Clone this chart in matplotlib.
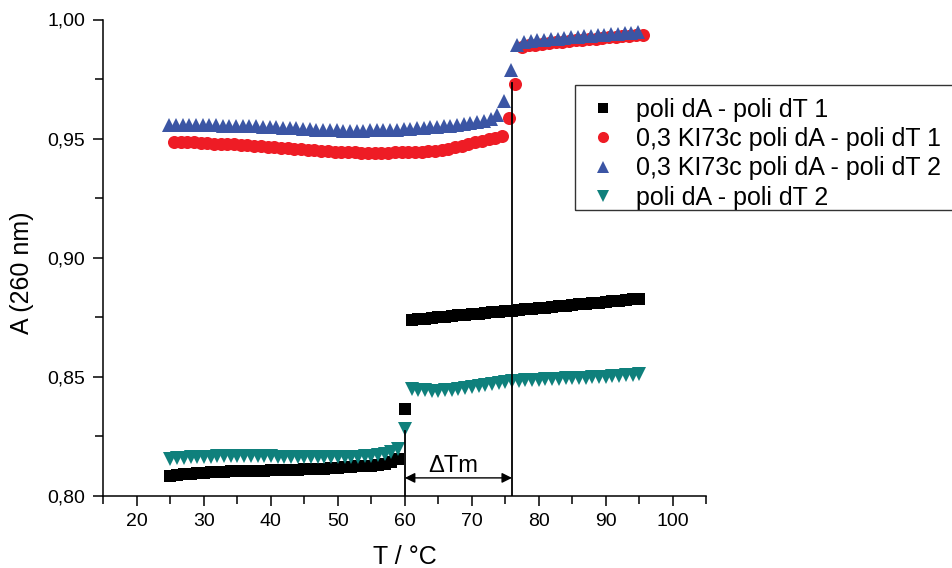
import numpy as np
import matplotlib
matplotlib.use("Agg")
import matplotlib.pyplot as plt
from matplotlib.patches import Rectangle
from matplotlib.ticker import MultipleLocator, FuncFormatter

plt.rcParams['font.family'] = ['Liberation Sans', 'DejaVu Sans']

# ---------------- data ----------------
labels = ["poli dA - poli dT 1", "0,3 KI73c poli dA - poli dT 1",
          "0,3 KI73c poli dA - poli dT 2", "poli dA - poli dT 2"]

# temperature grids (1 °C steps as sampled by the instrument)
t_black = np.arange(71) + 25.0
t_red = np.arange(71) + 25.5
t_blue = np.arange(71) + 24.8
t_teal = np.arange(71) + 25.0

a_black = [0.8084, 0.8088, 0.8091, 0.8094, 0.8096, 0.8098, 0.8100, 0.8101, 0.8102, 0.8103,
           0.8104, 0.8105, 0.8106, 0.8107, 0.8107, 0.8108, 0.8109, 0.8110, 0.8110, 0.8111,
           0.8112, 0.8113, 0.8114, 0.8115, 0.8117, 0.8118, 0.8120, 0.8122, 0.8124, 0.8126,
           0.8128, 0.8131, 0.8136, 0.8143, 0.8155, 0.8366,
           0.8740, 0.8742, 0.8745, 0.8747, 0.8750, 0.8752, 0.8755, 0.8758, 0.8760, 0.8763,
           0.8765, 0.8768, 0.8771, 0.8773, 0.8776, 0.8778, 0.8781, 0.8784, 0.8786, 0.8789,
           0.8791, 0.8794, 0.8797, 0.8799, 0.8802, 0.8804, 0.8807, 0.8810, 0.8812, 0.8815,
           0.8817, 0.8820, 0.8823, 0.8825, 0.8828]

a_red = [0.9487, 0.9486, 0.9485, 0.9484, 0.9482, 0.9480, 0.9479, 0.9478, 0.9477, 0.9476,
         0.9474, 0.9473, 0.9471, 0.9469, 0.9466, 0.9463, 0.9461, 0.9459, 0.9457, 0.9455,
         0.9453, 0.9451, 0.9449, 0.9447, 0.9445, 0.9443, 0.9442, 0.9442, 0.9441, 0.9441,
         0.9441, 0.9441, 0.9441, 0.9442, 0.9442, 0.9443, 0.9443, 0.9444, 0.9446, 0.9448,
         0.9451, 0.9456, 0.9463, 0.9470, 0.9477, 0.9484, 0.9490, 0.9497, 0.9503, 0.9513,
         0.9585, 0.9731, 0.9884, 0.9891, 0.9895, 0.9898, 0.9901, 0.9904, 0.9907, 0.9909,
         0.9912, 0.9915, 0.9917, 0.9920, 0.9922, 0.9925, 0.9927, 0.9929, 0.9932, 0.9934,
         0.9937]

a_blue = [0.9558, 0.9558, 0.9558, 0.9558, 0.9557, 0.9557, 0.9556, 0.9556, 0.9555, 0.9555,
          0.9554, 0.9553, 0.9552, 0.9551, 0.9550, 0.9549, 0.9547, 0.9546, 0.9544, 0.9543,
          0.9541, 0.9540, 0.9538, 0.9537, 0.9536, 0.9535, 0.9534, 0.9534, 0.9534, 0.9534,
          0.9535, 0.9535, 0.9536, 0.9537, 0.9538, 0.9540, 0.9541, 0.9543, 0.9545, 0.9547,
          0.9550, 0.9552, 0.9555, 0.9558, 0.9561, 0.9565, 0.9569, 0.9574, 0.9581, 0.9601,
          0.9660, 0.9786, 0.9895, 0.9905, 0.9909, 0.9912, 0.9915, 0.9918, 0.9920, 0.9923,
          0.9925, 0.9928, 0.9930, 0.9932, 0.9934, 0.9936, 0.9938, 0.9940, 0.9942, 0.9944,
          0.9946]

a_teal = [0.8156, 0.8158, 0.8160, 0.8162, 0.8163, 0.8164, 0.8165, 0.8166, 0.8166, 0.8166,
          0.8166, 0.8166, 0.8166, 0.8166, 0.8166, 0.8166, 0.8165, 0.8165, 0.8164, 0.8164,
          0.8163, 0.8163, 0.8162, 0.8162, 0.8162, 0.8162, 0.8163, 0.8164, 0.8165, 0.8166,
          0.8168, 0.8171, 0.8176, 0.8184, 0.8197, 0.8280,
          0.8449, 0.8446, 0.8444, 0.8442, 0.8442, 0.8443, 0.8445, 0.8448, 0.8452, 0.8457,
          0.8461, 0.8466, 0.8470, 0.8475, 0.8479, 0.8483, 0.8484, 0.8485, 0.8486, 0.8487,
          0.8489, 0.8490, 0.8492, 0.8494, 0.8495, 0.8496, 0.8497, 0.8498, 0.8499, 0.8500,
          0.8502, 0.8504, 0.8506, 0.8509, 0.8511]

tm_1 = 60.0
tm_2 = 76.0
tm_1_top = 0.8273
tm_2_top = 0.9735
arrow_y = 0.8076

# ---------------- figure ----------------
W, H = 953, 568
fig = plt.figure(figsize=(W / 100, H / 100), dpi=100)
ax = fig.add_axes([103.5 / W, 1 - 496 / H, (706.2 - 103.5) / W, (496 - 19.5) / H])

c_black = '#000000'
c_red = '#EE1C25'
c_blue = '#3B55A4'
c_teal = '#0F807C'

ax.plot(t_black, a_black, ls='none', marker='s', ms=8.2, color=c_black, mew=0, label=labels[0])
ax.plot(t_red, a_red, ls='none', marker='o', ms=9.4, color=c_red, mew=0, label=labels[1])
ax.plot(t_blue, a_blue, ls='none', marker='^', ms=9.8, color=c_blue, mew=0, label=labels[2])
ax.plot(t_teal, a_teal, ls='none', marker='v', ms=9.8, color=c_teal, mew=0, label=labels[3])

ax.plot([tm_1, tm_1], [0.80, tm_1_top], color='black', lw=1.3, zorder=5)
ax.plot([tm_2, tm_2], [0.80, tm_2_top], color='black', lw=1.3, zorder=5)
ax.annotate('', xy=(tm_1, arrow_y), xytext=(tm_2, arrow_y),
            arrowprops=dict(arrowstyle='<|-|>', color='black', lw=1.0,
                            mutation_scale=15, shrinkA=0, shrinkB=0), zorder=5)
ax.text(67.2, 0.8128, '\u0394Tm', ha='center', va='center', fontsize=17)

ax.set_xlim(15, 105)
ax.set_ylim(0.80, 1.00)
ax.xaxis.set_major_locator(MultipleLocator(10))
ax.xaxis.set_minor_locator(MultipleLocator(5))
ax.yaxis.set_major_locator(MultipleLocator(0.05))
ax.yaxis.set_minor_locator(MultipleLocator(0.025))
ax.xaxis.set_major_formatter(FuncFormatter(lambda v, p: '' if v < 19 or v > 101 else f'{v:.0f}'))
ax.yaxis.set_major_formatter(FuncFormatter(lambda v, p: f'{v:.2f}'.replace('.', ',')))

for s in ['top', 'right']:
    ax.spines[s].set_visible(False)
for s in ['left', 'bottom']:
    ax.spines[s].set_linewidth(1.1)
ax.tick_params(which='major', direction='out', length=7, width=1.1, labelsize=14, pad=5)
ax.tick_params(which='minor', direction='out', length=5.5, width=1.1)
ax.tick_params(axis='y', which='major', pad=6)

fig.text(405 / W, 1 - 557 / H, 'T / °C', ha='center', va='center', fontsize=18)
fig.text(22 / W, 1 - 273 / H, 'A (260 nm)', ha='center', va='center', fontsize=18, rotation=90)

leg = ax.legend(loc='upper left', bbox_to_anchor=(590.5 / W, 1 - 97.5 / H),
                bbox_transform=fig.transFigure, frameon=False, fontsize=18,
                handlelength=1.0, handletextpad=0.84, labelspacing=0.22,
                markerscale=0.85, borderaxespad=0, borderpad=0)
fig.patches.append(Rectangle((575 / W, 1 - 210 / H), (965 - 575) / W, (210 - 85) / H,
                             transform=fig.transFigure, fill=False, edgecolor='#333333',
                             lw=1.0, zorder=10))

fig.savefig('out.png', dpi=100)
